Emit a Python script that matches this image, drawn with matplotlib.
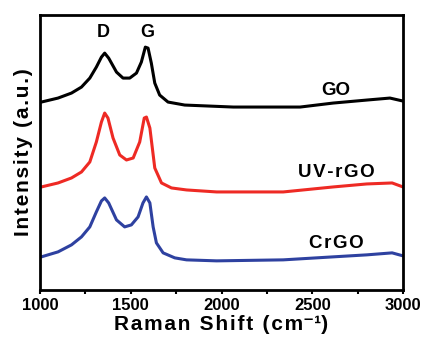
import matplotlib
matplotlib.use('Agg')
import matplotlib.pyplot as plt

plt.rcParams['font.family'] = ['Liberation Sans', 'DejaVu Sans']
plt.rcParams['font.weight'] = 'bold'

# Raman shift (cm-1) / intensity (a.u., stacked offsets)
go_x = [1007, 1099, 1173, 1228, 1274, 1310, 1338, 1356, 1378, 1421, 1457,
        1494, 1531, 1558, 1580, 1595, 1613, 1632, 1659, 1705, 1797, 2065,
        2433, 2615, 2800, 2928, 3000]
go_y = [188, 192, 197, 203, 212, 223, 233, 237, 232, 218, 212,
        212, 217, 228, 243, 242, 227, 207, 195, 188, 185, 183,
        183, 187, 190, 192, 189]

uv_x = [1007, 1099, 1173, 1228, 1274, 1310, 1338, 1356, 1374, 1402, 1439,
        1476, 1513, 1549, 1574, 1586, 1605, 1632, 1669, 1724, 1807, 1973,
        2340, 2615, 2800, 2940, 3000]
uv_y = [103, 107, 112, 118, 128, 148, 168, 177, 172, 152, 135,
        130, 132, 148, 172, 173, 162, 122, 107, 102, 100, 98,
        98, 103, 106, 107, 103]

cr_x = [1007, 1099, 1173, 1228, 1274, 1310, 1338, 1356, 1378, 1421, 1466,
        1503, 1540, 1567, 1586, 1605, 1623, 1641, 1678, 1742, 1807, 1973,
        2340, 2615, 2800, 2940, 3000]
cr_y = [33, 38, 45, 53, 63, 78, 89, 92, 87, 70, 63,
        65, 73, 87, 93, 87, 63, 47, 37, 32, 30, 29,
        30, 33, 35, 37, 34]


def spaced(s):
    # loose letter spacing like the original artwork
    return '\u200a'.join(s)


fig = plt.figure(figsize=(4.22, 3.37), dpi=100)
ax = fig.add_axes([0.095, 0.14, 0.86, 0.815])

ax.plot(go_x, go_y, color='black', lw=2.2)
ax.plot(uv_x, uv_y, color='#ee2a24', lw=2.2)
ax.plot(cr_x, cr_y, color='#2e41a0', lw=2.2)

ax.text(1347, 258, 'D', ha='center', va='center', fontsize=13, fontweight='bold')
ax.text(1590, 258, 'G', ha='center', va='center', fontsize=13, fontweight='bold')
ax.text(2631, 200, 'GO', ha='center', va='center', fontsize=13.5, fontweight='bold')
ax.text(2631, 117, spaced('UV-rGO'), ha='center', va='center', fontsize=13.5, fontweight='bold')
ax.text(2634, 46, spaced('CrGO'), ha='center', va='center', fontsize=13.5, fontweight='bold')

ax.set_xlim(1000, 3000)
ax.set_ylim(0, 275)
ax.set_xticks([1000, 1500, 2000, 2500, 3000])
ax.set_xticks([1250, 1750, 2250, 2750], minor=True)
ax.set_yticks([])
ax.tick_params(axis='x', direction='out', length=3, width=1.5, labelsize=12, pad=3)
ax.tick_params(axis='x', which='minor', direction='out', length=3, width=1.5)
for lbl in ax.get_xticklabels():
    lbl.set_fontweight('bold')
for s in ax.spines.values():
    s.set_linewidth(2)

ax.set_xlabel(spaced('Raman Shift (cm') + '\u207b\u00b9)', fontsize=15, fontweight='bold', labelpad=1)
ax.set_ylabel(spaced('Intensity (a.u.)'), fontsize=15, fontweight='bold', labelpad=5)

fig.savefig('out.png', dpi=100)
